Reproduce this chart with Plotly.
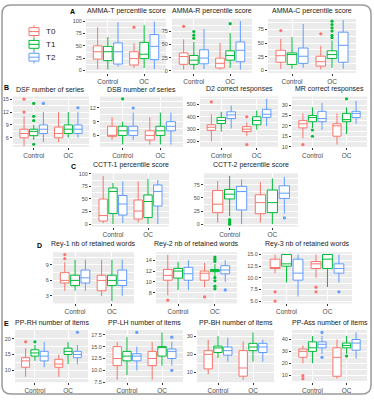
import plotly.graph_objects as go

W, H = 374, 400
groups = ["Control", "OC"]
times = ["T0", "T1", "T2"]
colors = ["#F8766D", "#00BA38", "#619CFF"]

# Each box: [lower whisker, Q1, median, Q3, upper whisker]
# Order: Control T0, T1, T2, OC T0, T1, T2
amma_t_stats = [[3, 23, 38, 50, 88], [2, 20, 38, 49, 68], [8, 13, 38, 56, 98],
                [5, 11, 24, 38, 55], [5, 24, 33, 57, 92], [3, 22, 49, 73, 99]]
amma_t_out = [[], [], [], [88], [], []]

amma_r_stats = [[2, 12, 27, 34, 60], [2, 12, 20, 29, 55], [3, 13, 24, 40, 80],
                [2, 5, 14, 24, 53], [5, 20, 29, 38, 72], [2, 17, 39, 55, 95]]
amma_r_out = [[85], [62, 68, 75], [], [], [90], []]

amma_c_stats = [[3, 15, 27, 37, 58], [3, 11, 29, 32, 61], [5, 13, 26, 41, 85],
                [2, 8, 16, 26, 45], [5, 22, 29, 36, 55], [3, 15, 46, 70, 92]]
amma_c_out = [[73], [], [], [67], [60, 64, 72, 78, 84, 90], []]

dsf_stats = [[4, 6, 7, 8, 11], [5.5, 6.5, 7.5, 8, 9], [5, 7, 8, 9, 12],
             [5, 6, 7, 8.5, 12], [6, 7, 8, 9, 12], [6, 7, 8, 9, 12]]
dsf_out = [[12, 15], [4.5, 10, 11, 14], [14], [], [], [13]]

dsb_stats = [[5, 5.8, 6, 8, 10], [4, 6, 7, 8, 9], [5, 6, 7, 8, 11],
             [4, 5, 6, 7, 10], [4, 6, 7, 8, 11], [4, 7, 8, 9, 11]]
dsb_out = [[], [14], [12], [], [], []]

d2_stats = [[200, 290, 315, 335, 420], [280, 345, 370, 395, 440], [305, 385, 415, 440, 490],
            [245, 280, 300, 320, 355], [295, 335, 370, 400, 450], [325, 395, 420, 460, 545]]
d2_out = [[520], [], [], [175, 400], [], []]

mr_stats = [[14, 19, 21, 22.5, 26], [19, 22, 24, 25, 29], [18, 22, 23.5, 27, 31],
            [11, 15, 20, 21, 26], [16, 22, 23, 26, 29], [21, 24, 26, 27, 32]]
mr_out = [[11], [15, 18], [], [], [33], []]

cctt1_stats = [[2, 6, 17, 50, 96], [0, 21, 65, 72, 82], [2, 18, 40, 57, 85],
               [3, 10, 26, 48, 85], [0, 13, 45, 58, 90], [0, 36, 65, 78, 88]]
cctt1_out = [[], [], [], [], [], []]

cctt2_stats = [[3, 22, 38, 64, 82], [15, 48, 57, 66, 92], [0, 27, 62, 72, 85],
               [3, 20, 41, 56, 80], [0, 22, 41, 65, 87], [20, 49, 59, 73, 90]]
cctt2_out = [[], [0, 3, 6, 9], [], [], [], [12]]

rey1_stats = [[4, 5.5, 6, 7.5, 9.5], [4, 5, 6, 7, 10], [4, 5.5, 6.5, 8, 10],
              [3, 4, 6, 7, 10], [2, 5, 6, 7, 10], [3, 5, 6, 8, 10]]
rey1_out = [[10.2, 11], [], [], [], [], []]

rey2_stats = [[7.5, 10.3, 11.2, 12.3, 15], [8.5, 10.7, 12, 12.5, 13.7], [8.5, 10.3, 11.5, 12.7, 14],
              [9, 10.3, 11.6, 12, 13.5], [11, 11.9, 12.1, 12.3, 13.3], [10, 11.5, 12.2, 13, 14]]
rey2_out = [[6.6], [], [], [7.2], [8.7, 9.2, 10.2, 10.8, 13.8, 14.2, 14.6], [8.5]]

rey3_stats = [[11, 12, 12, 14, 15], [9, 12.5, 13, 15, 15], [6, 9.5, 11, 14, 15],
              [10, 12, 13, 13.5, 15], [8, 12, 14, 15, 15], [9, 11, 12, 13, 15]]
rey3_out = [[5, 7], [], [], [7, 8], [], [7]]

pprh_stats = [[8, 11, 13, 14, 17], [13, 14.5, 15.5, 16.5, 18], [11, 13, 14.5, 16, 19],
              [8, 11, 12, 13.5, 15], [12, 15, 16, 17, 19], [12, 14, 15, 16, 18]]
pprh_out = [[19], [19], [], [], [], [22]]

pplh_stats = [[8, 11, 12.5, 15, 16], [9, 12, 13, 14, 17], [10, 12, 13, 13.5, 15],
              [8, 11, 12.5, 14, 16], [11, 13, 15, 15, 18], [11, 12.5, 14, 14.5, 16]]
pplh_out = [[], [], [18], [], [], [10, 17]]

ppbh_stats = [[9, 12, 20, 22, 28], [18, 21, 23.5, 24.5, 30], [16, 19.5, 22, 24, 29],
              [6, 8, 12.5, 22, 27], [16, 22, 24, 26, 32], [16, 21, 24, 26, 28]]
ppbh_out = [[], [], [], [], [], []]

ppass_stats = [[20, 25, 30, 32, 35], [20, 30, 33, 38, 43], [28, 33, 36, 38, 43],
               [7, 9, 25, 33, 40], [28, 33, 35, 37, 43], [24, 31, 37, 40, 46]]
ppass_out = [[7, 9.5], [], [25, 46], [], [26], []]

# Tick values / labels
ticks_0_100 = [0, 25, 50, 75, 100]
ticks_0_75 = [0, 25, 50, 75]
ticks_dsf = [6, 9, 12, 15]
ticks_dsb = [6, 9, 12]
ticks_d2 = [200, 300, 400, 500]
ticks_mr = [10, 15, 20, 25, 30]
ticks_rey1 = [3, 6, 9]
ticks_rey2 = [8, 10, 12, 14]
ticks_rey3 = [5.0, 7.5, 10.0, 12.5, 15.0]
ticks_pprh = [10, 15, 20]
ticks_pplh = [7.5, 10.0, 12.5, 15.0, 17.5]
ticks_ppbh = [10, 20, 30]
ticks_ppass = [10, 20, 30, 40]

# Panel layout: title, stats, outliers, ticks, tick decimals, yrange, pixel box (x0, x1, y0, y1)
panels = [
    ("AMMA-T percentile score", amma_t_stats, amma_t_out, ticks_0_100, 0, [-5, 105], (86, 166, 16, 71)),
    ("AMMA-R percentile score", amma_r_stats, amma_r_out, ticks_0_75, 0, [-4.5, 99.5], (172, 252, 16, 71)),
    ("AMMA-C percentile score", amma_c_stats, amma_c_out, ticks_0_75, 0, [-4.5, 94.5], (268, 356, 16, 71)),
    ("DSF number of series", dsf_stats, dsf_out, ticks_dsf, 0, [3.9, 15.6], (13, 89, 95, 146)),
    ("DSB number of series", dsb_stats, dsb_out, ticks_dsb, 0, [3.5, 14.5], (100, 183, 95, 146)),
    ("D2 correct responses", d2_stats, d2_out, ticks_d2, 0, [157, 563], (200, 278, 95, 146)),
    ("MR correct responses", mr_stats, mr_out, ticks_mr, 0, [9.9, 34.1], (292, 367, 95, 146)),
    ("CCTT-1 percentile score", cctt1_stats, cctt1_out, ticks_0_100, 0, [-5, 101], (92, 169, 173, 227)),
    ("CCTT-2 percentile score", cctt2_stats, cctt2_out, ticks_0_75, 0, [-4.5, 96.5], (204, 298, 173, 227)),
    ("Rey-1 nb of retained words", rey1_stats, rey1_out, ticks_rey1, 0, [1.55, 11.45], (53, 134, 253, 305)),
    ("Rey-2 nb of retained words", rey2_stats, rey2_out, ticks_rey2, 0, [6.0, 15.5], (156, 237, 253, 305)),
    ("Rey-3 nb of retained words", rey3_stats, rey3_out, ticks_rey3, 1, [4.5, 15.5], (262, 352, 253, 305)),
    ("PP-RH number of items", pprh_stats, pprh_out, ticks_pprh, 0, [6.3, 22.7], (15, 88, 332, 385)),
    ("PP-LH number of items", pplh_stats, pplh_out, ticks_pplh, 1, [7.5, 18.5], (106, 183, 332, 385)),
    ("PP-BH number of items", ppbh_stats, ppbh_out, ticks_ppbh, 0, [4.7, 33.3], (197, 274, 332, 385)),
    ("PP-Ass number of items", ppass_stats, ppass_out, ticks_ppass, 0, [4.0, 48.0], (292, 367, 332, 385)),
]

letters = [("A", 72, 9), ("B", 7, 86), ("C", 73, 166), ("D", 39, 246), ("E", 6, 325)]

offsets = [-0.28, 0.0, 0.28]
box_w = 0.24

fig = go.Figure()
layout = {}
annotations = []
shapes = []

def fmt(v, d):
    return f"{v:.{d}f}"

for k, (title, stats, outs, tks, dec, yr, (x0, x1, y0, y1)) in enumerate(panels, start=1):
    xa = "x" if k == 1 else f"x{k}"
    ya = "y" if k == 1 else f"y{k}"
    for gi, g in enumerate(groups):
        for ti, t in enumerate(times):
            idx = gi * 3 + ti
            s = stats[idx]
            pos = gi + 1 + offsets[ti]
            fig.add_trace(go.Box(
                x=[pos], q1=[s[1]], median=[s[2]], q3=[s[3]],
                lowerfence=[s[0]], upperfence=[s[4]],
                width=box_w, fillcolor="white",
                line=dict(color=colors[ti], width=1), whiskerwidth=0,
                boxpoints=False, showlegend=False, hoverinfo="skip",
                xaxis=xa, yaxis=ya, name=t))
            if outs[idx]:
                fig.add_trace(go.Scatter(
                    x=[pos] * len(outs[idx]), y=outs[idx], mode="markers",
                    marker=dict(color=colors[ti], size=3.2),
                    showlegend=False, hoverinfo="skip", xaxis=xa, yaxis=ya))
    step = tks[1] - tks[0]
    minor = [tks[0] - step / 2] + [v + step / 2 for v in tks]
    kx = "xaxis" if k == 1 else f"xaxis{k}"
    ky = "yaxis" if k == 1 else f"yaxis{k}"
    layout[kx] = dict(
        domain=[x0 / W, x1 / W], anchor=ya, range=[0.4, 2.6],
        tickvals=[1, 2], ticktext=groups, showgrid=True, gridcolor="white",
        gridwidth=1, zeroline=False, showline=False, ticks="outside",
        ticklen=2, tickwidth=0.6, tickcolor="#333333",
        tickfont=dict(size=6.5, color="#4D4D4D"), fixedrange=True)
    layout[ky] = dict(
        domain=[1 - y1 / H, 1 - y0 / H], anchor=xa, range=yr,
        tickvals=tks, ticktext=[fmt(v, dec) for v in tks],
        showgrid=True, gridcolor="white", gridwidth=1, zeroline=False,
        showline=False, ticks="outside", ticklen=2, tickwidth=0.6,
        tickcolor="#333333", tickfont=dict(size=5.5, color="#4D4D4D"),
        minor=dict(tickvals=minor, showgrid=True, gridcolor="white",
                   gridwidth=0.5, ticks=""),
        fixedrange=True)
    annotations.append(dict(
        text=title, x=(x0 + x1) / 2 / W, y=1 - (y0 - 2) / H,
        xref="paper", yref="paper", xanchor="center", yanchor="bottom",
        showarrow=False, font=dict(size=7, color="#1A1A1A")))

for (L, lx, ly) in letters:
    annotations.append(dict(
        text=f"<b>{L}</b>", x=lx / W, y=1 - ly / H, xref="paper", yref="paper",
        xanchor="center", yanchor="middle", showarrow=False,
        font=dict(size=7, color="#000000")))

# Custom legend (ggplot-style box keys)
leg_y = [29, 42, 55]
for ti, t in enumerate(times):
    cy = leg_y[ti]
    c = colors[ti]
    def px(x, y):
        return x / W, 1 - y / H
    bx0, by0 = px(29, cy - 4)
    bx1, by1 = px(39, cy + 4)
    shapes.append(dict(type="rect", xref="paper", yref="paper", x0=bx0, x1=bx1,
                       y0=by0, y1=by1, line=dict(color=c, width=1), fillcolor="white"))
    mx0, my = px(29, cy)
    mx1, _ = px(39, cy)
    shapes.append(dict(type="line", xref="paper", yref="paper", x0=mx0, x1=mx1,
                       y0=my, y1=my, line=dict(color=c, width=1)))
    wx, wy0 = px(34, cy - 4)
    _, wy1 = px(34, cy - 6.5)
    shapes.append(dict(type="line", xref="paper", yref="paper", x0=wx, x1=wx,
                       y0=wy0, y1=wy1, line=dict(color=c, width=1)))
    _, wy2 = px(34, cy + 4)
    _, wy3 = px(34, cy + 6.5)
    shapes.append(dict(type="line", xref="paper", yref="paper", x0=wx, x1=wx,
                       y0=wy2, y1=wy3, line=dict(color=c, width=1)))
    annotations.append(dict(
        text=t, x=44 / W, y=1 - cy / H, xref="paper", yref="paper",
        xanchor="left", yanchor="middle", showarrow=False,
        font=dict(size=8, color="#1A1A1A")))

# Rounded outer frame
def P(x, y):
    return f"{x / W:.5f},{1 - y / H:.5f}"
l, t_, r_, b, rad = 2, 2, 371, 397, 9
path = (f"M{P(l + rad, t_)} L{P(r_ - rad, t_)} Q{P(r_, t_)} {P(r_, t_ + rad)} "
        f"L{P(r_, b - rad)} Q{P(r_, b)} {P(r_ - rad, b)} L{P(l + rad, b)} "
        f"Q{P(l, b)} {P(l, b - rad)} L{P(l, t_ + rad)} Q{P(l, t_)} {P(l + rad, t_)} Z")
shapes.append(dict(type="path", path=path, xref="paper", yref="paper",
                   line=dict(color="#9A9A9A", width=1.5), fillcolor="rgba(0,0,0,0)"))

fig.update_layout(
    width=W, height=H, margin=dict(l=0, r=0, t=0, b=0),
    paper_bgcolor="white", plot_bgcolor="#EBEBEB",
    font=dict(family="Liberation Sans, Arial, sans-serif"),
    showlegend=False, annotations=annotations, shapes=shapes, **layout)

fig.write_html("out.html", config={"displayModeBar": False},
               post_script="document.body.style.margin='0';document.body.style.overflow='hidden';")
